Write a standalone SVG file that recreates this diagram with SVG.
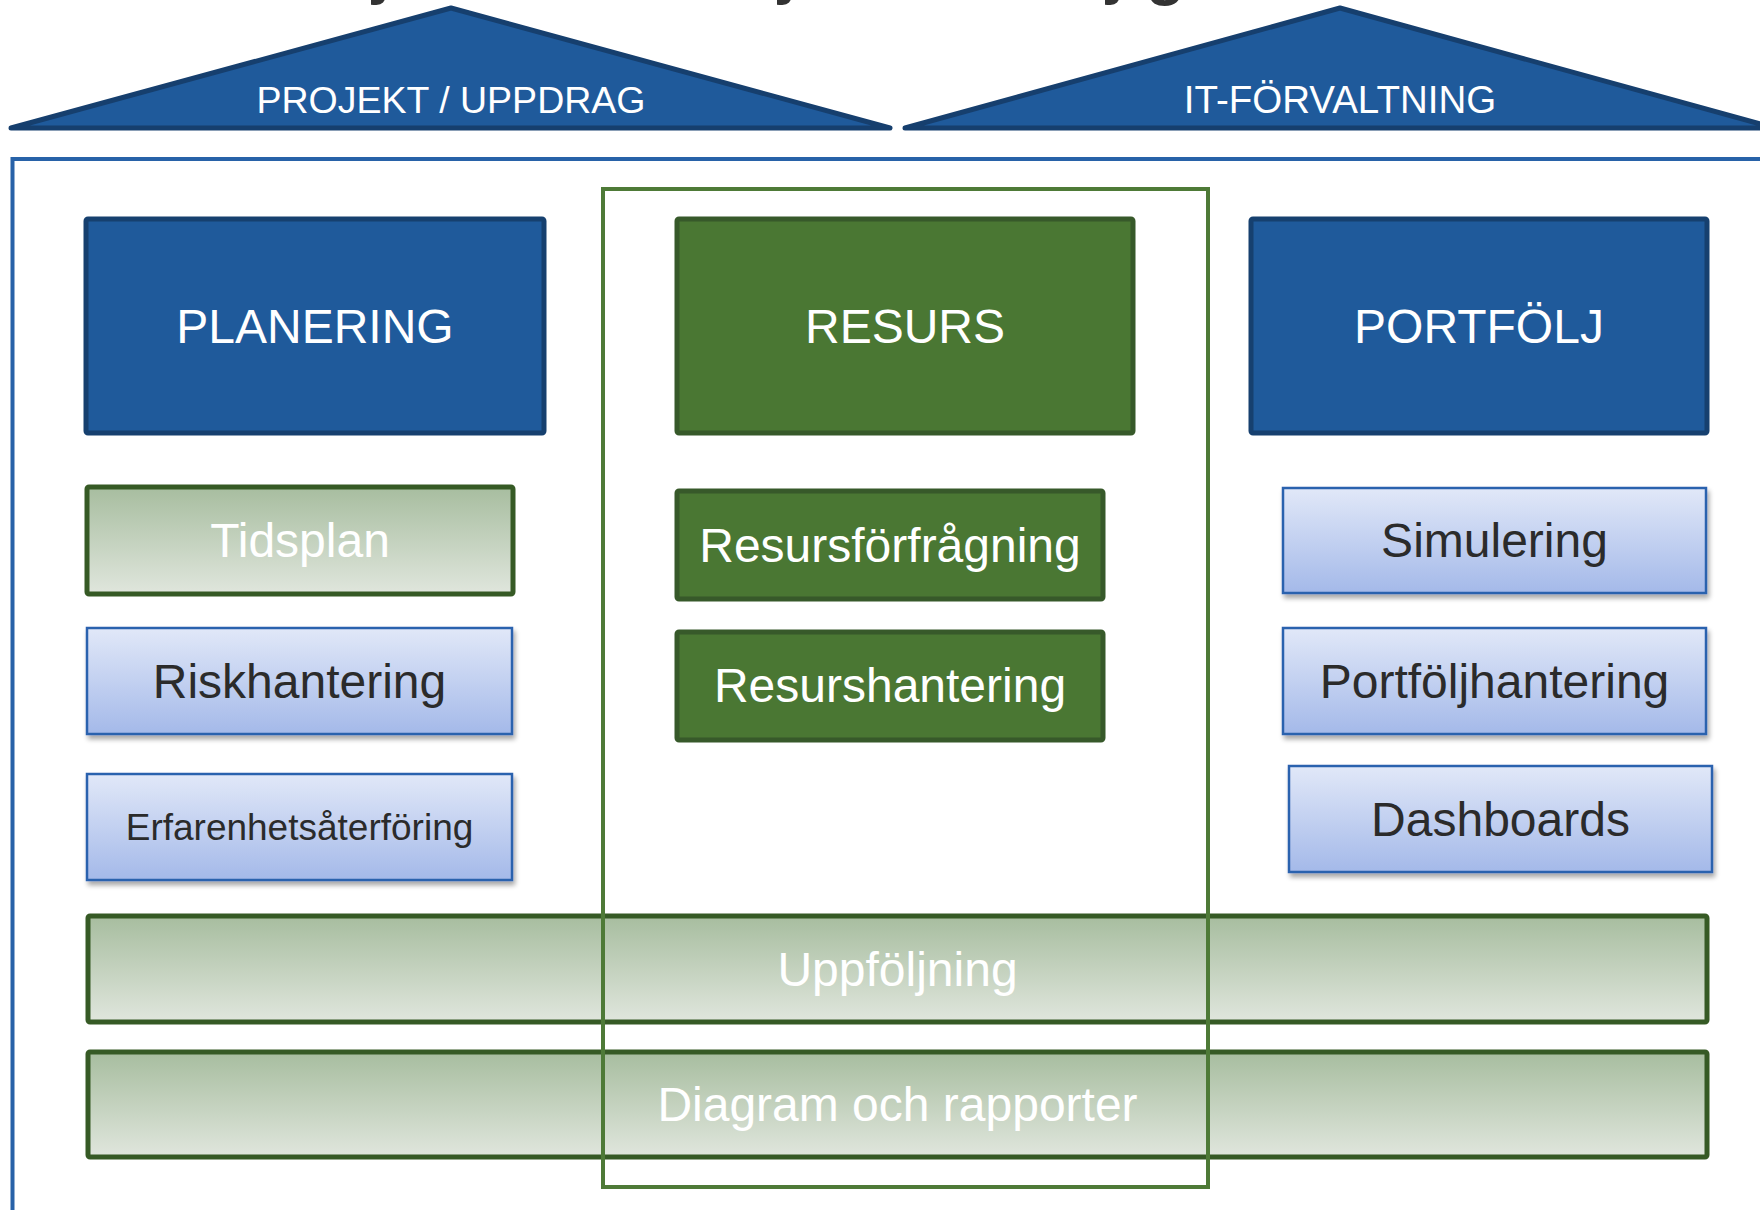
<svg xmlns="http://www.w3.org/2000/svg" width="1760" height="1210" viewBox="0 0 1760 1210">
<defs>
<linearGradient id="gGreen" x1="0" y1="0" x2="0" y2="1">
<stop offset="0" stop-color="#a7bd9f"/>
<stop offset="1" stop-color="#e0e6dd"/>
</linearGradient>
<linearGradient id="gBlue" x1="0" y1="0" x2="0" y2="1">
<stop offset="0" stop-color="#e1e8f8"/>
<stop offset="1" stop-color="#a4b9e9"/>
</linearGradient>
<filter id="shadow" x="-5%" y="-10%" width="115%" height="130%">
<feGaussianBlur in="SourceAlpha" stdDeviation="2.5"/>
<feOffset dx="2" dy="4" result="b"/>
<feComponentTransfer><feFuncA type="linear" slope="0.35"/></feComponentTransfer>
<feMerge><feMergeNode/><feMergeNode in="SourceGraphic"/></feMerge>
</filter>
</defs>
<style>
text{font-family:"Liberation Sans",Arial,sans-serif;text-anchor:middle}
.roof{fill:#1f5a9b;stroke:#163f6e;stroke-width:5;stroke-linejoin:round}
.roofT{fill:#ffffff;font-size:37.5px}
.head-b{fill:#1f5a9b;stroke:#16406f;stroke-width:5}
.head-g{fill:#4a7733;stroke:#37592a;stroke-width:5}
.headT{fill:#ffffff;font-size:48px}
.gbox{fill:url(#gGreen);stroke:#365a25;stroke-width:5}
.bbox{fill:url(#gBlue);stroke:#2c62ae;stroke-width:2.5;filter:url(#shadow)}
.wT{fill:#ffffff;font-size:48px}
.dT{fill:#2b2b2b;font-size:48px}
.title{fill:#333333;font-size:64px;font-weight:bold;text-anchor:start}
</style>
<rect width="1760" height="1210" fill="#ffffff"/>

<g id="title-fragment">
<text class="title" x="372" y="-8.5">j</text>
<text class="title" x="778" y="-8.5">j</text>
<text class="title" x="1106" y="-8">j</text>
<text class="title" x="1146" y="-7.5">g</text>
</g>

<g id="frame">
<rect x="12.5" y="159" width="1800" height="1100" fill="none" stroke="#2862a8" stroke-width="4"/>
</g>

<g id="roof-projekt">
<polygon class="roof" points="11,128 451,8 890,128"/>
<text class="roofT" x="451" y="113">PROJEKT / UPPDRAG</text>
</g>
<g id="roof-it">
<polygon class="roof" points="905,128 1340,8 1775,128"/>
<text class="roofT" x="1340" y="113" style="font-size:38.5px">IT-FÖRVALTNING</text>
</g>

<g id="planering">
<rect class="head-b" x="86" y="219" width="458" height="214" rx="2"/>
<text class="headT" x="315" y="343">PLANERING</text>
</g>
<g id="resurs">
<rect class="head-g" x="677" y="219" width="456" height="214" rx="2"/>
<text class="headT" x="905" y="343">RESURS</text>
</g>
<g id="portfolj">
<rect class="head-b" x="1251" y="219" width="456" height="214" rx="2"/>
<text class="headT" x="1479" y="343">PORTFÖLJ</text>
</g>

<g id="tidsplan">
<rect class="gbox" x="87" y="487" width="426" height="107" rx="2"/>
<text class="wT" x="300" y="557">Tidsplan</text>
</g>
<g id="riskhantering">
<rect class="bbox" x="87" y="628" width="425" height="106"/>
<text class="dT" x="299.5" y="698">Riskhantering</text>
</g>
<g id="erfarenhet">
<rect class="bbox" x="87" y="774" width="425" height="106"/>
<text class="dT" x="299.5" y="840" style="font-size:37px">Erfarenhetsåterföring</text>
</g>

<g id="resursforfragning">
<rect class="head-g" x="677" y="491" width="426" height="108" rx="2"/>
<text class="wT" x="890" y="562">Resursförfrågning</text>
</g>
<g id="resurshantering">
<rect class="head-g" x="677" y="632" width="426" height="108" rx="2"/>
<text class="wT" x="890" y="702">Resurshantering</text>
</g>

<g id="simulering">
<rect class="bbox" x="1283" y="488" width="423" height="105"/>
<text class="dT" x="1494.5" y="557">Simulering</text>
</g>
<g id="portfoljhantering">
<rect class="bbox" x="1283" y="628" width="423" height="106"/>
<text class="dT" x="1494.5" y="698">Portföljhantering</text>
</g>
<g id="dashboards">
<rect class="bbox" x="1289" y="766" width="423" height="106"/>
<text class="dT" x="1500.5" y="836">Dashboards</text>
</g>

<g id="uppfoljning">
<rect class="gbox" x="88" y="916" width="1619" height="106" rx="2"/>
<text class="wT" x="897.5" y="986">Uppföljning</text>
</g>
<g id="diagram">
<rect class="gbox" x="88" y="1052" width="1619" height="105" rx="2"/>
<text class="wT" x="897.5" y="1121">Diagram och rapporter</text>
</g>

<g id="resurs-frame">
<rect x="603" y="189" width="605" height="998" fill="none" stroke="#4e7a37" stroke-width="4"/>
</g>

<g id="connectors"></g>
</svg>
